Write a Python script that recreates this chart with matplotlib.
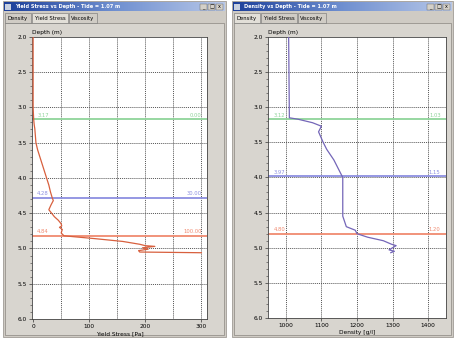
import matplotlib
matplotlib.use("Agg")
import matplotlib.pyplot as plt
from matplotlib.patches import Rectangle
import numpy as np

# ---------------- data ----------------
ys_depth = [2.0, 3.0, 3.17, 3.25, 3.3, 3.5, 3.6, 3.7, 3.8, 3.9, 4.0, 4.1, 4.2, 4.28,
            4.32, 4.38, 4.45, 4.5, 4.55, 4.6, 4.65, 4.68, 4.70, 4.73, 4.78, 4.82,
            4.86, 4.90, 4.94, 4.96, 4.97, 4.99, 5.01, 5.03, 5.05, 5.06]
ys_value = [0, 0, 1, 2, 3, 5, 8, 12, 16, 20, 24, 28, 31, 34,
            36, 32, 28, 33, 38, 45, 50, 51, 47, 52, 50, 55,
            110, 160, 190, 200, 217, 195, 205, 188, 190, 300]

den_depth = [2.0, 3.15, 3.17, 3.22, 3.27, 3.35, 3.5, 3.6, 3.75, 3.9, 4.0, 4.5, 4.55,
             4.7, 4.75, 4.8, 4.85, 4.9, 4.95, 4.97, 5.0, 5.03, 5.05, 5.07]
den_value = [1008, 1010, 1034, 1075, 1100, 1092, 1105, 1115, 1135, 1150, 1160, 1160, 1160,
             1170, 1195, 1200, 1230, 1274, 1297, 1310, 1300, 1290, 1305, 1295]

ys_marks = [3.17, 4.28, 4.82]
ys_mark_left = ["3.17", "4.28", "4.84"]
ys_mark_right = ["0.00", "30.00", "100.00"]
den_marks = [3.17, 3.98, 4.80]
den_mark_left = ["3.12", "3.97", "4.80"]
den_mark_right = ["1.03", "1.15", "1.20"]
mark_colors = ["#8fd49a", "#8c8fe0", "#f08a70"]

ys_ticks = [0, 100, 200, 300]
den_ticks = [1000, 1100, 1200, 1300, 1400]
depth_ticks = [2.0, 2.5, 3.0, 3.5, 4.0, 4.5, 5.0, 5.5, 6.0]

W, H = 456, 340
fig = plt.figure(figsize=(W / 100, H / 100), dpi=100, facecolor="white")

# chrome overlay in pixel coords
bg = fig.add_axes([0, 0, 1, 1], zorder=0)
bg.set_xlim(0, W)
bg.set_ylim(H, 0)
bg.axis("off")


def window(x0, x1, y0, y1, title, active_tab):
    bg.add_patch(Rectangle((x0, y0), x1 - x0, y1 - y0, fc="#cfcbc4", ec="#a09c96", lw=0.6))
    # title bar gradient
    grad = np.linspace(0, 1, 256).reshape(1, -1)
    from matplotlib.colors import LinearSegmentedColormap
    cmap = LinearSegmentedColormap.from_list("tb", ["#1c3f9a", "#6f8fd0", "#b8c8e8"])
    bg.imshow(grad, cmap=cmap, extent=[x0 + 1, x1 - 1, y0 + 10, y0 + 1], aspect="auto", zorder=1)
    bg.text(x0 + 12, y0 + 5.8, title, color="white", fontsize=3.6, va="center", ha="left",
            fontweight="bold", zorder=2)
    bg.add_patch(Rectangle((x0 + 2, y0 + 2.5), 6, 6, fc="#c8d0e0", ec="none", zorder=2))
    for i, s in enumerate(["_", "□", "x"]):
        bx = x1 - 26 + i * 8
        bg.add_patch(Rectangle((bx, y0 + 2.5), 7, 6.5, fc="#d4d0c8", ec="#606060", lw=0.3, zorder=2))
        bg.text(bx + 3.5, y0 + 6, s, fontsize=3.5, ha="center", va="center", zorder=3)
    # tabs
    tabs = [("Density", 26), ("Yield Stress", 36), ("Viscosity", 28)]
    tx = x0 + 2
    for name, w in tabs:
        act = name == active_tab
        bg.add_patch(Rectangle((tx, y0 + 12), w, 10, fc="#e2dfd8" if act else "#d0ccc5",
                               ec="#707070", lw=0.4, zorder=2))
        bg.text(tx + w / 2, y0 + 17.2, name, fontsize=3.8, ha="center", va="center", zorder=3)
        tx += w + 1
    # inner panel
    bg.add_patch(Rectangle((x0 + 2, y0 + 22), x1 - x0 - 4, y1 - y0 - 24, fc="#d8d5cf",
                           ec="#8a8680", lw=0.5, zorder=1))


window(3, 226, 1, 337, "Yield Stress vs Depth - Tide = 1.07 m", "Yield Stress")
window(232, 453, 1, 337, "Density vs Depth - Tide = 1.07 m", "Density")


def make_axes(px0, px1, py0, py1):
    return fig.add_axes([px0 / W, 1 - py1 / H, (px1 - px0) / W, (py1 - py0) / H], zorder=5)


def style(ax, xlim, xgrid, xticks, xlabel, marks, lefts, rights, xv, yv, lc):
    ax.set_facecolor("white")
    ax.set_ylim(6.0, 2.0)
    ax.set_xlim(*xlim)
    ax.set_yticks(depth_ticks)
    ax.set_yticklabels([f"{d:.1f}" for d in depth_ticks], fontsize=4.2)
    ax.set_yticks(np.arange(2.0, 6.01, 0.1), minor=True)
    ax.set_xticks(xticks)
    ax.set_xticklabels([str(t) for t in xticks], fontsize=4.2)
    ax.tick_params(length=2, width=0.5, pad=1.5, color="#333")
    ax.tick_params(which="minor", length=1.2, width=0.4, color="#333")
    ax.tick_params(axis="x", which="minor", length=0)
    for sp in ax.spines.values():
        sp.set_linewidth(0.6)
        sp.set_color("#444")
    for gx in xgrid:
        ax.axvline(gx, color="#555", lw=0.7, ls=(0, (1, 1)), zorder=1)
    for gy in depth_ticks[1:-1]:
        ax.axhline(gy, color="#555", lw=0.7, ls=(0, (1, 1)), zorder=1)
    ax.set_xlabel(xlabel, fontsize=4.2, labelpad=1.5)
    ax.text(0.0, 1.008, "Depth (m)", transform=ax.transAxes, fontsize=4.2, ha="left", va="bottom")
    for d, l, r, c in zip(marks, lefts, rights, mark_colors):
        ax.axhline(d, color=c, lw=1.3, zorder=2)
        ax.text(0.03, d - 0.02, l, transform=ax.get_yaxis_transform(), color=c, fontsize=3.8,
                ha="left", va="bottom", zorder=3)
        ax.text(0.97, d - 0.02, r, transform=ax.get_yaxis_transform(), color=c, fontsize=3.8,
                ha="right", va="bottom", zorder=3)
    ax.plot(xv, yv, color=lc, lw=0.9, zorder=4)


ax1 = make_axes(32, 207, 37, 319)
style(ax1, (-2, 310), np.arange(50, 301, 50), ys_ticks, "Yield Stress [Pa]",
      ys_marks, ys_mark_left, ys_mark_right, ys_value, ys_depth, "#d8603e")

ax2 = make_axes(268, 446, 37, 318)
style(ax2, (950, 1450), den_ticks, den_ticks, "Density [g/l]",
      den_marks, den_mark_left, den_mark_right, den_value, den_depth, "#7466b8")

fig.savefig("out.png", dpi=100, facecolor="white")
